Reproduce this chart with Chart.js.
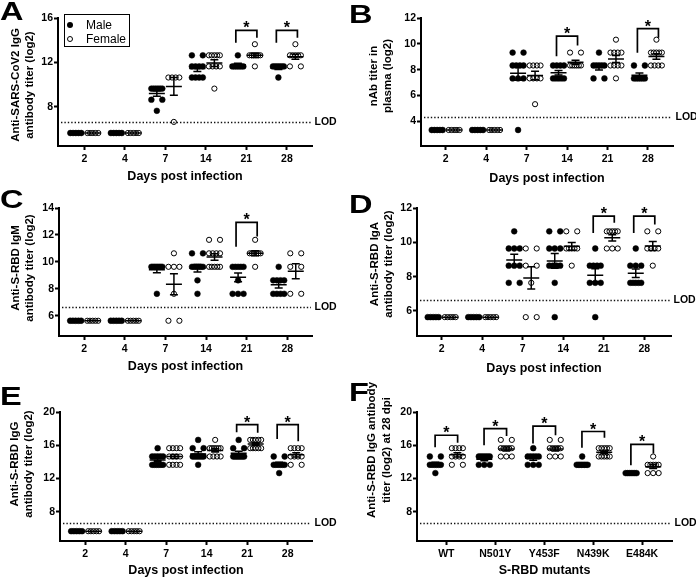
<!DOCTYPE html>
<html>
<head>
<meta charset="utf-8">
<script src="https://cdn.jsdelivr.net/npm/chart.js@4.4.1/dist/chart.umd.min.js"></script>
<style>
  html, body { margin: 0; padding: 0; background: #fff; }
  #fig { position: relative; width: 696px; height: 578px; overflow: hidden;
         font-family: "Liberation Sans", Arial, sans-serif; color: #000; }
  #fig canvas { position: absolute; }
  .tag { position: absolute; font-weight: bold; font-size: 25px; line-height: 25px;
         transform: scaleX(1.3); transform-origin: left top; }
  .legend { position: absolute; left: 64px; top: 14px; width: 64px; height: 31px;
            border: 1px solid #000; background: #fff; font-size: 12px; }
  .legend span { position: absolute; }
  .legend .lbl { line-height: 14px; }
  .legend .dot { width: 6px; height: 6px; border-radius: 50%; box-sizing: border-box; }
  .legend .fill { background: #000; }
  .legend .open { border: 1px solid #000; }
</style>
</head>
<body>
<div id="fig">
  <canvas id="cA" width="348" height="190" style="left:0;top:0"></canvas>
  <canvas id="cB" width="348" height="190" style="left:348px;top:0"></canvas>
  <canvas id="cC" width="348" height="190" style="left:0;top:190px"></canvas>
  <canvas id="cD" width="348" height="190" style="left:348px;top:190px"></canvas>
  <canvas id="cE" width="348" height="198" style="left:0;top:380px"></canvas>
  <canvas id="cF" width="348" height="198" style="left:348px;top:380px"></canvas>

  <div class="tag" style="left:0;top:-1px">A</div>
  <div class="tag" style="left:349px;top:2px">B</div>
  <div class="tag" style="left:0;top:187px">C</div>
  <div class="tag" style="left:349px;top:192px">D</div>
  <div class="tag" style="left:0;top:384px">E</div>
  <div class="tag" style="left:349px;top:380px">F</div>

  <div class="legend">
    <span class="dot fill" style="left:2px;top:7px"></span>
    <span class="lbl" style="left:21px;top:3px">Male</span>
    <span class="dot open" style="left:2px;top:21px"></span>
    <span class="lbl" style="left:21px;top:17px">Female</span>
  </div>
</div>

<script>
const DAYS = ["2", "4", "7", "14", "21", "28"]
const MUTANTS = ["WT", "N501Y", "Y453F", "N439K", "E484K"]

const LOD_TITER = 6.64   // log2(100)
const LOD_NAB = 4.32     // log2(20)

const rep = (v, n) => Array(n).fill(v)

// A - anti-SARS-CoV2 IgG (one list per day)
const cov2IgGMale = [
  rep(5.64, 5), rep(5.64, 5),
  [...rep(9.64, 6), 8.64, 8.64, 7.64],
  [12.64, 12.64, ...rep(11.64, 4), ...rep(10.64, 4)],
  [12.64, ...rep(11.64, 6)],
  [...rep(11.64, 6), 10.64]
]
const cov2IgGFemale = [
  rep(5.64, 5), rep(5.64, 5),
  [...rep(10.64, 4), 6.64],
  [...rep(12.64, 5), ...rep(11.64, 4), 9.64],
  [13.64, ...rep(12.64, 6), 11.64],
  [13.64, ...rep(12.64, 5), 11.64, 11.64]
]

// B - neutralizing antibody titer
const nAbMale = [
  rep(3.32, 5), rep(3.32, 5),
  [9.32, 9.32, ...rep(8.32, 4), ...rep(7.32, 3), 3.32],
  [...rep(8.32, 4), ...rep(7.32, 5)],
  [9.32, ...rep(8.32, 5), 7.32, 7.32],
  [8.32, 8.32, ...rep(7.32, 6)]
]
const nAbFemale = [
  rep(3.32, 5), rep(3.32, 5),
  [...rep(8.32, 4), ...rep(7.32, 4), 5.32],
  [9.32, 9.32, ...rep(8.32, 6)],
  [10.32, ...rep(9.32, 4), ...rep(8.32, 4), 7.32],
  [10.32, ...rep(9.32, 5), ...rep(8.32, 4)]
]

// C - anti-S-RBD IgM
const rbdIgMMale = [
  rep(5.64, 5), rep(5.64, 5),
  [...rep(9.64, 8), 7.64],
  [10.64, 10.64, ...rep(9.64, 6), 8.64, 7.64],
  [...rep(9.64, 5), 8.64, ...rep(7.64, 3)],
  [9.64, ...rep(8.64, 4), ...rep(7.64, 4)]
]
const rbdIgMFemale = [
  rep(5.64, 5), rep(5.64, 5),
  [10.64, 9.64, 9.64, 9.64, 7.64, 5.64, 5.64],
  [11.64, 11.64, ...rep(10.64, 4), ...rep(9.64, 5)],
  [11.64, ...rep(10.64, 6), 9.64],
  [10.64, 10.64, 9.64, 9.64, 7.64, 7.64]
]

// D - anti-S-RBD IgA
const rbdIgAMale = [
  rep(5.64, 5), rep(5.64, 5),
  [10.64, ...rep(9.64, 3), ...rep(8.64, 3), 7.64, 7.64],
  [10.64, 10.64, ...rep(9.64, 3), ...rep(8.64, 4), 7.64, 5.64],
  [9.64, ...rep(8.64, 4), ...rep(7.64, 3), 5.64],
  [9.64, ...rep(8.64, 3), ...rep(7.64, 5)]
]
const rbdIgAFemale = [
  rep(5.64, 5), rep(5.64, 5),
  [9.64, 9.64, 8.64, 8.64, 7.64, 5.64, 5.64],
  [10.64, 10.64, ...rep(9.64, 5), 8.64],
  [...rep(10.64, 5), ...rep(9.64, 3)],
  [10.64, 10.64, ...rep(9.64, 4), 8.64]
]

// E - anti-S-RBD IgG
const rbdIgGMale = [
  rep(5.64, 5), rep(5.64, 5),
  [15.64, ...rep(14.64, 5), ...rep(13.64, 6)],
  [16.64, 15.64, 15.64, ...rep(14.64, 6), 13.64],
  [16.64, 15.64, 15.64, ...rep(14.64, 7)],
  [14.64, 14.64, ...rep(13.64, 6), 12.64]
]
const rbdIgGFemale = [
  rep(5.64, 5), rep(5.64, 5),
  [...rep(15.64, 4), ...rep(14.64, 4), ...rep(13.64, 4)],
  [16.64, ...rep(15.64, 6), ...rep(14.64, 4)],
  [...rep(16.64, 5), ...rep(15.64, 5)],
  [...rep(15.64, 4), ...rep(14.64, 4), 13.64, 13.64]
]

// F - IgG against S-RBD mutants at 28 dpi
const mutantMale = [
  rbdIgGMale[5],
  [...rep(14.64, 6), ...rep(13.64, 3)],
  [15.64, ...rep(14.64, 5), ...rep(13.64, 3)],
  [14.64, ...rep(13.64, 8)],
  rep(12.64, 7)
]
const mutantFemale = [
  rbdIgGFemale[5],
  [16.64, 16.64, ...rep(15.64, 5), ...rep(14.64, 3)],
  [16.64, 16.64, ...rep(15.64, 5), ...rep(14.64, 3)],
  [...rep(15.64, 5), ...rep(14.64, 5)],
  [14.64, ...rep(13.64, 5), 12.64, 12.64, 12.64]
]

const ticksA = [8, 12, 16]
const ticksB = [4, 6, 8, 10, 12]
const ticksC = [6, 8, 10, 12, 14]
const ticksD = [6, 8, 10, 12]
const ticksE = [8, 12, 16, 20]
const ticksF = [8, 12, 16, 20]

// significance brackets: [group, top, left leg end, right leg end]
const sigA = [[4, 14.88, 13.76, 14.21], [5, 14.88, 13.76, 14.21]]
const sigB = [[3, 10.6, 9.04, 9.87], [5, 11.17, 9.3, 10.47]]
const sigC = [[4, 12.94, 11.13, 11.88]]
const sigD = [[4, 11.53, 10.55, 11.14], [5, 11.53, 10.55, 11.04]]
const sigE = [[4, 18.49, 17.57, 17.49], [5, 18.49, 16.76, 16.48]]
const sigF = [[0, 17.2, 15.75, 16.3], [1, 18.0, 16.0, 17.1], [2, 18.3, 16.2, 17.2],
              [3, 17.65, 15.7, 16.9], [4, 16.1, 13.6, 15.0]]

const FONT = "'Liberation Sans', Arial, sans-serif"
Chart.defaults.font.family = FONT
Chart.defaults.color = "#000"

const panels = [
  { canvas: "cA", cats: DAYS, male: cov2IgGMale, female: cov2IgGFemale, lod: LOD_TITER,
    yMin: 4.47, yMax: 16, yTicks: ticksA, xMin: -0.65, xMax: 5.62, sig: sigA,
    xTitle: "Days post infection", xTitlePad: 6,
    yTitle: ["Anti-SARS-CoV2 IgG", "antibody titer (log2)"], yTitleX: [15.5, 30], yTitleY: 85,
    pad: { top: 18, right: 36 }, yW: 58, xH: 44, off: 0.21, spread: 0.27, bw: 0.26, tickPad: 3 },
  { canvas: "cB", cats: DAYS, male: nAbMale, female: nAbFemale, lod: LOD_NAB,
    yMin: 2.08, yMax: 12, yTicks: ticksB, xMin: -0.61, xMax: 5.62, sig: sigB,
    xTitle: "Days post infection", xTitlePad: 4,
    yTitle: ["nAb titer in", "plasma (log2)"], yTitleX: [25.5, 40], yTitleY: 76,
    pad: { top: 18, right: 23 }, yW: 73, xH: 44, off: 0.21, spread: 0.27, bw: 0.26, tickPad: 3 },
  { canvas: "cC", cats: DAYS, male: rbdIgMMale, female: rbdIgMFemale, lod: LOD_TITER,
    yMin: 4.51, yMax: 14, yTicks: ticksC, xMin: -0.62, xMax: 5.61, sig: sigC,
    xTitle: "Days post infection", xTitlePad: 6,
    yTitle: ["Anti-S-RBD IgM", "antibody titer (log2)"], yTitleX: [15.5, 30], yTitleY: 78,
    pad: { top: 18, right: 36 }, yW: 59, xH: 44, off: 0.21, spread: 0.27, bw: 0.26, tickPad: 3 },
  { canvas: "cD", cats: DAYS, male: rbdIgAMale, female: rbdIgAFemale, lod: LOD_TITER,
    yMin: 4.54, yMax: 12, yTicks: ticksD, xMin: -0.61, xMax: 5.66, sig: sigD,
    xTitle: "Days post infection", xTitlePad: 4,
    yTitle: ["Anti-S-RBD IgA", "antibody titer (log2)"], yTitleX: [27, 41], yTitleY: 74,
    pad: { top: 18, right: 25 }, yW: 69, xH: 44, off: 0.21, spread: 0.27, bw: 0.26, tickPad: 3 },
  { canvas: "cE", cats: DAYS, male: rbdIgGMale, female: rbdIgGFemale, lod: LOD_TITER,
    yMin: 4.46, yMax: 20, yTicks: ticksE, xMin: -0.62, xMax: 5.6, sig: sigE,
    xTitle: "Days post infection", xTitlePad: 0,
    yTitle: ["Anti-S-RBD IgG", "antibody titer (log2)"], yTitleX: [15, 28.5], yTitleY: 84,
    pad: { top: 32, right: 36 }, yW: 60, xH: 37, off: 0.21, spread: 0.27, bw: 0.26, tickPad: 2.5 },
  { canvas: "cF", cats: MUTANTS, male: mutantMale, female: mutantFemale, lod: LOD_TITER,
    yMin: 4.46, yMax: 20, yTicks: ticksF, xMin: -0.6, xMax: 4.61, sig: sigF,
    xTitle: "S-RBD mutants", xTitlePad: 0,
    yTitle: ["Anti-S-RBD IgG antibody", "titer (log2) at 28 dpi"], yTitleX: [24, 39], yTitleY: 70,
    pad: { top: 32, right: 24 }, yW: 69, xH: 37, off: 0.225, spread: 0.225, bw: 0.23, tickPad: 2.5 }
]

// spread points of equal value into a row around the group centre
function swarm(groups, side, p) {
  const pts = []
  groups.forEach((vals, i) => {
    const c = i + side * p.off
    const rows = new Map()
    vals.forEach(v => rows.set(v, (rows.get(v) || 0) + 1))
    rows.forEach((n, v) => {
      for (let k = 0; k < n; k++) {
        const x = n === 1 ? c : c - p.spread / 2 + k * p.spread / (n - 1)
        pts.push({ x, y: v })
      }
    })
  })
  return pts
}

function meanSem(v) {
  const n = v.length
  const m = v.reduce((a, b) => a + b, 0) / n
  if (n < 2) return [m, 0]
  const sd = Math.sqrt(v.reduce((a, b) => a + (b - m) ** 2, 0) / (n - 1))
  return [m, sd / Math.sqrt(n)]
}

function decor(p) {
  return {
    id: "decor",
    beforeDatasetsDraw(chart) {
      const { ctx, chartArea: a, scales: { y } } = chart
      const ly = Math.round(y.getPixelForValue(p.lod)) + 0.5
      ctx.save()
      ctx.strokeStyle = "#111"
      ctx.lineWidth = 1.3
      ctx.setLineDash([1.4, 2])
      ctx.beginPath()
      ctx.moveTo(a.left + 3, ly)
      ctx.lineTo(a.right - 1, ly)
      ctx.stroke()
      ctx.setLineDash([])
      ctx.fillStyle = "#000"
      ctx.font = `bold 10.5px ${FONT}`
      ctx.textBaseline = "middle"
      ctx.fillText("LOD", a.right + 2.5, ly)
      ctx.restore()
    },
    afterDatasetsDraw(chart) {
      const { ctx, scales: { x, y } } = chart
      ctx.save()
      ctx.strokeStyle = "#000"
      ctx.lineWidth = 1.5
      ctx.beginPath()
      ;[[p.male, -1], [p.female, 1]].forEach(([groups, side]) => {
        groups.forEach((vals, i) => {
          const cx = x.getPixelForValue(i + side * p.off)
          const [m, s] = meanSem(vals)
          const ym = y.getPixelForValue(m)
          ctx.moveTo(cx - 8, ym); ctx.lineTo(cx + 8, ym)
          if (s > 0.02) {
            const y1 = y.getPixelForValue(m - s), y2 = y.getPixelForValue(m + s)
            ctx.moveTo(cx, y1); ctx.lineTo(cx, y2)
            ctx.moveTo(cx - 4, y1); ctx.lineTo(cx + 4, y1)
            ctx.moveTo(cx - 4, y2); ctx.lineTo(cx + 4, y2)
          }
        })
      })
      ctx.stroke()

      // significance brackets
      ctx.lineWidth = 1.7
      ctx.fillStyle = "#000"
      ctx.font = `bold 16px ${FONT}`
      ctx.textAlign = "center"
      ctx.textBaseline = "alphabetic"
      p.sig.forEach(([g, top, left, right]) => {
        const xl = x.getPixelForValue(g - p.bw), xr = x.getPixelForValue(g + p.bw)
        const yt = y.getPixelForValue(top)
        ctx.beginPath()
        ctx.moveTo(xl, y.getPixelForValue(left))
        ctx.lineTo(xl, yt)
        ctx.lineTo(xr, yt)
        ctx.lineTo(xr, y.getPixelForValue(right))
        ctx.stroke()
        ctx.fillText("*", (xl + xr) / 2, yt + 3)
      })
      ctx.restore()
    },
    afterDraw(chart) {
      const { ctx } = chart
      ctx.save()
      ctx.fillStyle = "#000"
      ctx.font = `bold 11.5px ${FONT}`
      ctx.textAlign = "center"
      ctx.textBaseline = "middle"
      p.yTitle.forEach((line, i) => {
        ctx.save()
        ctx.translate(p.yTitleX[i], p.yTitleY)
        ctx.rotate(-Math.PI / 2)
        ctx.fillText(line, 0, 0)
        ctx.restore()
      })
      ctx.restore()
    }
  }
}

panels.forEach(p => {
  const tickFont = { size: 10.5, weight: "bold" }
  new Chart(document.getElementById(p.canvas), {
    type: "scatter",
    data: {
      datasets: [
        { label: "Male", data: swarm(p.male, -1, p),
          pointRadius: 2.9, pointBackgroundColor: "#000", pointBorderColor: "#000", pointBorderWidth: 0.5 },
        { label: "Female", data: swarm(p.female, 1, p),
          pointRadius: 2.6, pointBackgroundColor: "rgba(255,255,255,0)", pointBorderColor: "#000", pointBorderWidth: 1 }
      ]
    },
    options: {
      responsive: false,
      devicePixelRatio: 1,
      animation: false,
      events: [],
      layout: { padding: { left: 0, top: p.pad.top, right: p.pad.right, bottom: 0 } },
      plugins: { legend: { display: false }, tooltip: { enabled: false } },
      scales: {
        x: {
          type: "linear", min: p.xMin, max: p.xMax,
          afterBuildTicks: s => { s.ticks = p.cats.map((_, i) => ({ value: i })) },
          afterFit: s => { s.height = p.xH },
          ticks: { callback: v => p.cats[v], font: tickFont, color: "#000",
                   padding: p.tickPad, autoSkip: false, maxRotation: 0 },
          grid: { drawOnChartArea: false, tickLength: 4, tickWidth: 2, tickColor: "#000" },
          border: { color: "#000", width: 2 },
          title: { display: true, text: p.xTitle, color: "#000",
                   font: { size: 12.5, weight: "bold" }, padding: { top: 0, bottom: p.xTitlePad } }
        },
        y: {
          type: "linear", min: p.yMin, max: p.yMax,
          afterBuildTicks: s => { s.ticks = p.yTicks.map(v => ({ value: v })) },
          afterFit: s => { s.width = p.yW },
          ticks: { font: tickFont, color: "#000", padding: 1 },
          grid: { drawOnChartArea: false, tickLength: 4, tickWidth: 2, tickColor: "#000" },
          border: { color: "#000", width: 2 }
        }
      }
    },
    plugins: [decor(p)]
  })
})
</script>
</body>
</html>
